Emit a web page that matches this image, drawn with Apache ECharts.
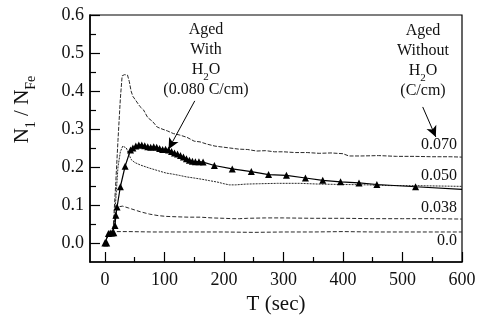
<!DOCTYPE html>
<html>
<head>
<meta charset="utf-8">
<script src="https://cdn.jsdelivr.net/npm/echarts@6/dist/echarts.min.js"></script>
<style>
  html, body { margin: 0; padding: 0; background: #fff; }
  #chart { width: 481px; height: 322px; }
</style>
</head>
<body>
<div id="chart"></div>
<script>
// curve "0.070" (aged without H2O)
var t070 = [0, 6, 12, 14, 18, 22, 26, 29, 33, 38, 41, 44, 47, 52, 59, 65, 72, 80, 88, 96, 105, 115, 126, 138, 150, 160, 172, 185, 195, 210, 225, 240, 255, 270, 285, 300, 320, 340, 360, 380, 400, 410, 430, 460, 490, 520, 550, 580, 600];
var v070 = [0.0, 0.022, 0.026, 0.04, 0.15, 0.27, 0.38, 0.44, 0.443, 0.442, 0.425, 0.40, 0.386, 0.375, 0.359, 0.35, 0.33, 0.32, 0.305, 0.30, 0.295, 0.288, 0.284, 0.278, 0.268, 0.266, 0.26, 0.255, 0.253, 0.25, 0.247, 0.246, 0.242, 0.243, 0.24, 0.24, 0.238, 0.238, 0.236, 0.237, 0.235, 0.229, 0.229, 0.23, 0.228, 0.228, 0.227, 0.227, 0.226];

// curve "0.050"
var t050 = [0, 6, 12, 16, 19, 22, 26, 30, 33, 36, 40, 44, 50, 60, 75, 90, 103, 115, 125, 137, 150, 162, 176, 190, 200, 209, 220, 237, 260, 290, 327, 360, 400, 440, 480, 520, 560, 600];
var v050 = [0.0, 0.022, 0.026, 0.06, 0.13, 0.2, 0.24, 0.255, 0.258, 0.25, 0.235, 0.22, 0.212, 0.205, 0.197, 0.19, 0.184, 0.181, 0.178, 0.174, 0.171, 0.168, 0.164, 0.16, 0.156, 0.153, 0.153, 0.155, 0.156, 0.157, 0.157, 0.155, 0.154, 0.153, 0.151, 0.151, 0.150, 0.149];

// curve "0.038"
var t038 = [0, 6, 12, 15, 18, 21, 24, 30, 40, 50, 60, 75, 90, 103, 120, 140, 160, 180, 200, 215, 226, 240, 270, 300, 350, 400, 450, 500, 550, 600];
var v038 = [0.0, 0.022, 0.026, 0.045, 0.075, 0.095, 0.1, 0.097, 0.092, 0.087, 0.082, 0.076, 0.072, 0.070, 0.069, 0.068, 0.068, 0.066, 0.065, 0.064, 0.064, 0.065, 0.066, 0.066, 0.065, 0.065, 0.064, 0.064, 0.064, 0.063];

// curve "0.0"
var t000 = [0, 6, 12, 16, 20, 40, 80, 120, 160, 200, 250, 300, 350, 400, 450, 500, 550, 600];
var v000 = [0.0, 0.022, 0.026, 0.028, 0.03, 0.03, 0.029, 0.029, 0.029, 0.029, 0.028, 0.029, 0.029, 0.030, 0.029, 0.029, 0.029, 0.029];

// aged with H2O (0.080 C/cm), triangles
var tH2O = [0, 3, 6, 9, 12, 15, 17, 18.5, 20.5, 26, 34, 43, 47, 52, 57, 62, 67, 72, 77, 82, 87, 92, 97, 102, 107, 112, 117, 122, 127, 132, 137, 142, 147, 152, 158, 165, 184, 214, 246, 275, 305, 337, 366, 396, 427, 457, 522];
var vH2O = [0.0, 0.0, 0.025, 0.026, 0.026, 0.027, 0.046, 0.073, 0.095, 0.148, 0.202, 0.245, 0.25, 0.255, 0.258, 0.258, 0.256, 0.253, 0.252, 0.253, 0.252, 0.249, 0.246, 0.247, 0.245, 0.241, 0.237, 0.234, 0.230, 0.226, 0.222, 0.218, 0.215, 0.214, 0.214, 0.213, 0.204, 0.195, 0.188, 0.180, 0.178, 0.171, 0.165, 0.161, 0.158, 0.154, 0.148];
var tH2OEnd = 600, vH2OEnd = 0.141;

var xLabels = [0, 100, 200, 300, 400, 500, 600];
var xMinor = [50, 150, 250, 350, 450, 550];
var yLabels = [0, 0.1, 0.2, 0.3, 0.4, 0.5, 0.6];
var yMinor = [0.05, 0.15, 0.25, 0.35, 0.45, 0.55];

function pairs(t, v) {
    var out = [];
    for (var i = 0; i < t.length; i++) out.push([t[i], v[i]]);
    return out;
}

var FONT = 'Liberation Serif';
var INK = '#111';
var LINE = '#2a2a2a';

var h2oData = pairs(tH2O, vH2O);
h2oData.push({ value: [tH2OEnd, vH2OEnd], symbol: 'none' });

function dashed(name, data, dash) {
    return {
        name: name, type: 'line', data: data,
        showSymbol: false, symbol: 'none',
        lineStyle: { color: LINE, width: 1, type: dash },
        animation: false, silent: true, z: 2
    };
}

var chart = echarts.init(document.getElementById('chart'));

var option = {
    backgroundColor: '#fff',
    animation: false,
    grid: {
        left: 90, right: 19, top: 15, bottom: 60,
        show: true, borderColor: '#000', borderWidth: 1.2,
        backgroundColor: 'transparent',
        outerBoundsMode: 'none'
    },
    xAxis: [{
        type: 'value', min: -25, max: 600,
        name: 'T (sec)', nameLocation: 'middle', nameGap: 32,
        nameTextStyle: { fontFamily: FONT, fontSize: 21, color: INK },
        splitLine: { show: false },
        axisLine: { show: true, onZero: false, lineStyle: { color: '#000', width: 1.5 } },
        axisTick: { show: true, inside: true, length: 10, customValues: xLabels, lineStyle: { color: '#000', width: 1.2 } },
        axisLabel: { customValues: xLabels, fontFamily: FONT, fontSize: 18, color: INK, margin: 9 }
    }, {
        type: 'value', min: -25, max: 600, position: 'bottom',
        splitLine: { show: false },
        axisLine: { show: false, onZero: false },
        axisTick: { show: true, inside: true, length: 5, customValues: xMinor, lineStyle: { color: '#000', width: 1.2 } },
        axisLabel: { show: false }
    }],
    yAxis: [{
        type: 'value', min: -0.05, max: 0.6,
        name: '{a|N}{b|1}{a| / N}{b|Fe}', nameLocation: 'middle', nameGap: 57, nameRotate: 90,
        nameTextStyle: {
            color: INK, padding: [0, 0, 0, 58],
            rich: {
                a: { fontFamily: FONT, fontSize: 21, lineHeight: 21, color: INK, verticalAlign: 'top' },
                b: { fontFamily: FONT, fontSize: 14, lineHeight: 14, color: INK, verticalAlign: 'top', padding: [12, 0, 0, 0] }
            }
        },
        splitLine: { show: false },
        axisLine: { show: true, onZero: false, lineStyle: { color: '#000', width: 1.5 } },
        axisTick: { show: true, inside: true, length: 10, customValues: yLabels, lineStyle: { color: '#000', width: 1.2 } },
        axisLabel: {
            customValues: yLabels, fontFamily: FONT, fontSize: 18, color: INK, margin: 6,
            formatter: function (v) { return v.toFixed(1); }
        }
    }, {
        type: 'value', min: -0.05, max: 0.6, position: 'left',
        splitLine: { show: false },
        axisLine: { show: false, onZero: false },
        axisTick: { show: true, inside: true, length: 6, customValues: yMinor, lineStyle: { color: '#000', width: 1.2 } },
        axisLabel: { show: false }
    }],
    series: [
        dashed('0.070', pairs(t070, v070), [4, 1.5]),
        dashed('0.050', pairs(t050, v050), [2, 1]),
        dashed('0.038', pairs(t038, v038), [4, 2]),
        dashed('0.0', pairs(t000, v000), [4, 2]),
        {
            name: 'Aged With H2O', type: 'line', data: h2oData,
            symbol: 'triangle', symbolSize: 7, showSymbol: true,
            itemStyle: { color: '#000' },
            lineStyle: { color: '#000', width: 1.2 },
            animation: false, silent: true, z: 3,
            markLine: {
                silent: true, animation: false,
                symbol: ['none', 'arrow'], symbolSize: [8, 11],
                label: { show: false },
                lineStyle: { color: '#000', width: 1, type: 'solid' },
                data: [
                    [{ coord: [151, 0.374] }, { coord: [107, 0.247] }],
                    [{ coord: [534, 0.358] }, { coord: [556, 0.279] }]
                ]
            }
        }
    ],
    graphic: [
        {
            type: 'text', x: 206, y: 22, z: 10, silent: true,
            style: {
                text: '{a|Aged}\n{a|With}\n{a|H}{b|2}{a|O}\n{a|(0.080 C/cm)}',
                align: 'center', verticalAlign: 'top', fill: INK,
                rich: {
                    a: { fontFamily: FONT, fontSize: 16, lineHeight: 20, fill: INK, verticalAlign: 'top' },
                    b: { fontFamily: FONT, fontSize: 11, lineHeight: 11, fill: INK, verticalAlign: 'top', padding: [10, 0, 0, 0] }
                }
            }
        },
        {
            type: 'text', x: 423, y: 23, z: 10, silent: true,
            style: {
                text: '{a|Aged}\n{a|Without}\n{a|H}{b|2}{a|O}\n{a|(C/cm)}',
                align: 'center', verticalAlign: 'top', fill: INK,
                rich: {
                    a: { fontFamily: FONT, fontSize: 16, lineHeight: 20, fill: INK, verticalAlign: 'top' },
                    b: { fontFamily: FONT, fontSize: 11, lineHeight: 11, fill: INK, verticalAlign: 'top', padding: [10, 0, 0, 0] }
                }
            }
        },
        { type: 'text', x: 457, y: 145, silent: true, style: { text: '0.070', font: '16px "Liberation Serif"', fill: INK, align: 'right', verticalAlign: 'middle' } },
        { type: 'text', x: 457, y: 176, silent: true, style: { text: '0.050', font: '16px "Liberation Serif"', fill: INK, align: 'right', verticalAlign: 'middle' } },
        { type: 'text', x: 457, y: 208, silent: true, style: { text: '0.038', font: '16px "Liberation Serif"', fill: INK, align: 'right', verticalAlign: 'middle' } },
        { type: 'text', x: 457, y: 241, silent: true, style: { text: '0.0', font: '16px "Liberation Serif"', fill: INK, align: 'right', verticalAlign: 'middle' } }
    ]
};

chart.setOption(option);
</script>
</body>
</html>
